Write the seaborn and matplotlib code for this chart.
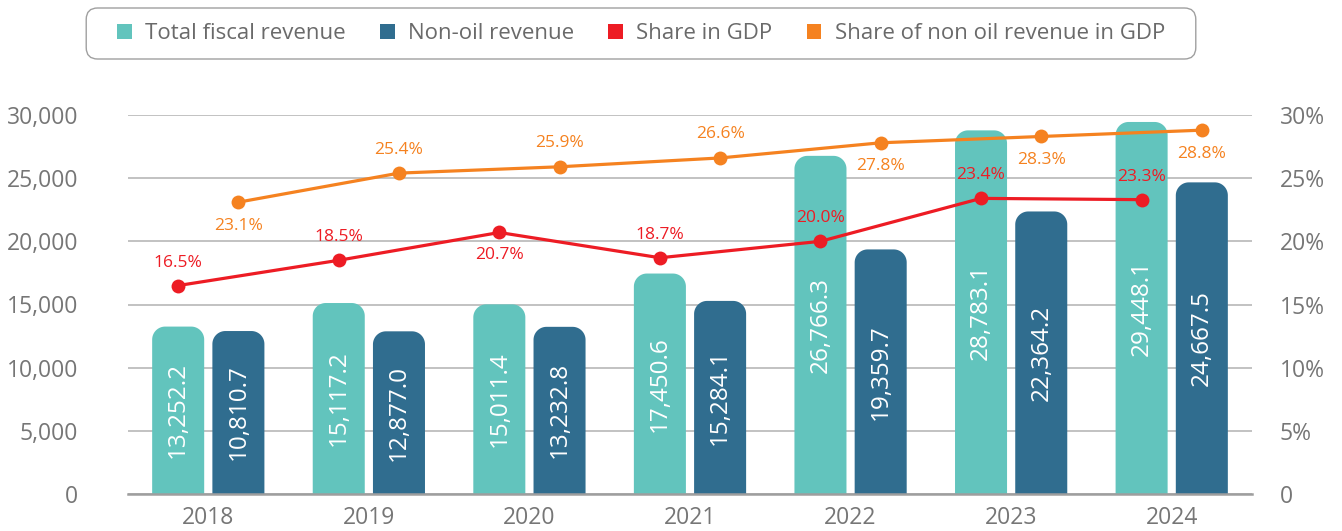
import numpy as np
import pandas as pd
import matplotlib
matplotlib.use("Agg")
import matplotlib.pyplot as plt
import seaborn as sns
from matplotlib.patches import FancyBboxPatch, Patch, PathPatch
from matplotlib.path import Path

years = ["2018", "2019", "2020", "2021", "2022", "2023", "2024"]
total_revenue = [13252.2, 15117.2, 15011.4, 17450.6, 26766.3, 28783.1, 29448.1]
# bar heights as drawn in the reference (2018 non-oil bar is drawn near 12,900)
non_oil_bar = [12900.0, 12877.0, 13232.8, 15284.1, 19359.7, 22364.2, 24667.5]
non_oil_label = [10810.7, 12877.0, 13232.8, 15284.1, 19359.7, 22364.2, 24667.5]
share_gdp = [16.5, 18.5, 20.7, 18.7, 20.0, 23.4, 23.3]
share_nonoil_gdp = [23.1, 25.4, 25.9, 26.6, 27.8, 28.3, 28.8]
series_names = ["Total fiscal revenue", "Non-oil revenue", "Share in GDP",
                "Share of non oil revenue in GDP"]

TEAL = "#62C4BD"
NAVY = "#306D8F"
RED = "#ED1C24"
ORANGE = "#F58220"
GRAY = "#767676"
GRID = "#BDBDBD"

sns.set_theme(style="white")
plt.rcParams["font.family"] = ["Open Sans", "DejaVu Sans"]

df = pd.DataFrame({
    "year": years * 2,
    "value": total_revenue + non_oil_bar,
    "series": [series_names[0]] * 7 + [series_names[1]] * 7,
})

W, H = 1342, 531
fig = plt.figure(figsize=(W / 100, H / 100), dpi=100)
ax = fig.add_axes([128 / W, 1 - 494 / H, (1252 - 128) / W, (494 - 115) / H])

sns.barplot(data=df, x="year", y="value", hue="series", order=years,
            hue_order=series_names[:2], palette=[TEAL, NAVY],
            width=0.75, gap=0.136, ax=ax, legend=False, saturation=1,
            errorbar=None)

ax.set_ylim(0, 30000)
ax.set_xlim(-0.5, 6.5)

# rounded tops: rebuild each seaborn bar as a path with quarter-circle corners
px_per_x = (1252 - 128) / 7.0
px_per_y = (494 - 115) / 30000.0
r_px = 13.0
r_x = r_px / px_per_x
r_y = r_px / px_per_y
bars = list(ax.patches)
for p in bars:
    x0, y0 = p.get_x(), p.get_y()
    w, h = p.get_width(), p.get_height()
    x1, top = x0 + w, y0 + h
    fc = p.get_facecolor()
    p.remove()
    t1 = np.linspace(np.pi, np.pi / 2, 20)
    t2 = np.linspace(np.pi / 2, 0, 20)
    verts = [(x0, y0)]
    verts += [(x0 + r_x + r_x * np.cos(t), top - r_y + r_y * np.sin(t)) for t in t1]
    verts += [(x1 - r_x + r_x * np.cos(t), top - r_y + r_y * np.sin(t)) for t in t2]
    verts += [(x1, y0), (x0, y0)]
    codes = [Path.MOVETO] + [Path.LINETO] * (len(verts) - 2) + [Path.CLOSEPOLY]
    ax.add_patch(PathPatch(Path(verts, codes), facecolor=fc, edgecolor="none", zorder=2))

# value labels inside bars
offs = 0.1875
for i in range(len(years)):
    ax.text(i - offs, total_revenue[i] / 2, f"{total_revenue[i]:,.1f}",
            rotation=90, ha="center", va="center", color="white",
            fontsize=17.5, zorder=3)
    ax.text(i + offs, non_oil_bar[i] / 2, f"{non_oil_label[i]:,.1f}",
            rotation=90, ha="center", va="center", color="white",
            fontsize=17.5, zorder=3)

ax.set_axisbelow(True)
ax.yaxis.grid(True, color=GRID, linewidth=1.3)
ax.set_yticks(np.arange(0, 30001, 5000))
ax.set_yticklabels([f"{v:,}" for v in range(0, 30001, 5000)])
ax.set_xlabel("")
ax.set_ylabel("")
for s in ["left", "right", "top"]:
    ax.spines[s].set_visible(False)
ax.spines["bottom"].set_color("#9E9E9E")
ax.spines["bottom"].set_linewidth(1.8)
ax.set_xticks(np.arange(7))
ax.set_xticklabels(years)
ax.set_xticks(np.arange(-0.5, 7.0, 1.0), minor=True)
ax.tick_params(axis="x", which="major", length=0, pad=9, labelsize=16.5, labelcolor=GRAY)
ax.tick_params(axis="x", which="minor", length=9, width=1.5, color="#9E9E9E", direction="out")
ax.tick_params(axis="y", length=0, pad=36, labelsize=16.5, labelcolor=GRAY)

ax2 = ax.twinx()
ax2.set_ylim(0, 30)
ax2.set_yticks(np.arange(0, 31, 5))
ax2.set_yticklabels(["0"] + [f"{v}%" for v in range(5, 31, 5)])
ax2.tick_params(axis="y", length=0, pad=20, labelsize=16.5, labelcolor=GRAY)
for s in ax2.spines.values():
    s.set_visible(False)
ax2.grid(False)

xs = np.arange(7)
sns.lineplot(x=xs - offs, y=share_gdp, ax=ax2, color=RED, linewidth=2.3,
             marker="o", markersize=10, markeredgewidth=0, sort=False)
sns.lineplot(x=xs + offs, y=share_nonoil_gdp, ax=ax2, color=ORANGE, linewidth=2.3,
             marker="o", markersize=10, markeredgewidth=0, sort=False)
ax2.set_xlim(-0.5, 6.5)
ax2.set_ylabel("")

red_pos = [1, 1, -1, 1, 1, 1, 1]
orange_pos = [-1, 1, 1, 1, -1, -1, -1]
for i in range(7):
    ax2.annotate(f"{share_gdp[i]:.1f}%", (i - offs, share_gdp[i]),
                 xytext=(0, 16.5 * red_pos[i]), textcoords="offset points",
                 ha="center", va="center", color=RED, fontsize=12.5)
    ax2.annotate(f"{share_nonoil_gdp[i]:.1f}%", (i + offs, share_nonoil_gdp[i]),
                 xytext=(0, 17 * orange_pos[i]), textcoords="offset points",
                 ha="center", va="center", color=ORANGE, fontsize=12.5)

handles = [Patch(facecolor=c, edgecolor="none") for c in [TEAL, NAVY, RED, ORANGE]]
leg = fig.legend(handles, series_names, loc="center", ncol=4,
                 bbox_to_anchor=(641 / W, 1 - 33.5 / H),
                 frameon=False, fontsize=16, handlelength=0.65, handleheight=0.65,
                 handletextpad=0.6, columnspacing=1.55, borderpad=0,
                 borderaxespad=0, labelcolor="#6A6A6A")

# rounded frame around the legend, padded like the reference
fig.canvas.draw()
bb = leg.get_window_extent()
pad_x, pad_y = 31, 15
fx0, fy0 = (bb.x0 - pad_x) / W, (bb.y0 - pad_y) / H
fw, fh = (bb.width + 2 * pad_x) / W, (bb.height + 2 * pad_y) / H
frame = FancyBboxPatch((fx0, fy0), fw, fh, boxstyle="round,pad=0,rounding_size=0.0085",
                       mutation_aspect=W / H, transform=fig.transFigure,
                       facecolor="white", edgecolor="#A0A0A0", linewidth=1.0,
                       zorder=0)
fig.patches.append(frame)

fig.savefig("out.png", dpi=100)
